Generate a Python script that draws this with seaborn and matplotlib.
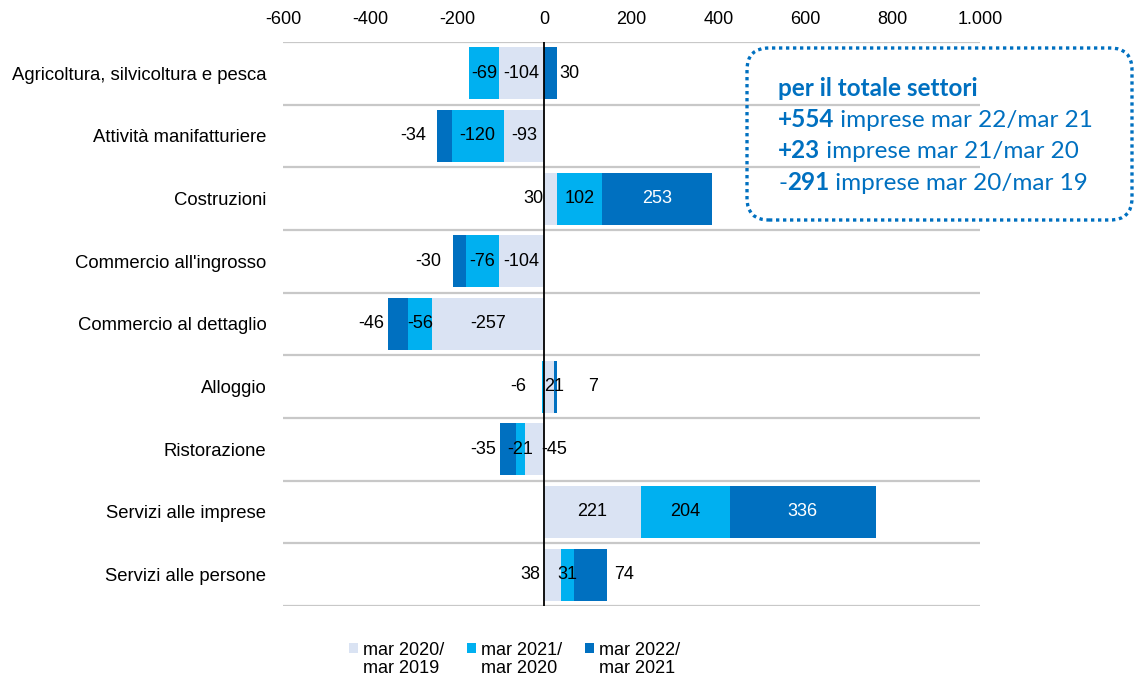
import numpy as np
import pandas as pd
import matplotlib
matplotlib.use('Agg')
import matplotlib.pyplot as plt
import seaborn as sns
from matplotlib.patches import FancyBboxPatch, Rectangle
from matplotlib.ticker import FuncFormatter
from matplotlib.transforms import IdentityTransform

# =============================================================================
# Dati
# =============================================================================
settori = ['Agricoltura, silvicoltura e pesca', 'Attività manifatturiere', 'Costruzioni',
           "Commercio all'ingrosso", 'Commercio al dettaglio', 'Alloggio', 'Ristorazione',
           'Servizi alle imprese', 'Servizi alle persone']
serie = ['mar 2020/\nmar 2019', 'mar 2021/\nmar 2020', 'mar 2022/\nmar 2021']
var_20_19 = [-104, -93, 30, -104, -257, 21, -45, 221, 38]
var_21_20 = [-69, -120, 102, -76, -56, -6, -21, 204, 31]
var_22_21 = [30, -34, 253, -30, -46, 7, -35, 336, 74]
tick_x = [-600, -400, -200, 0, 200, 400, 600, 800, 1000]

totale_righe = [('', '+554', ' imprese mar 22/mar 21'),
                ('', '+23', ' imprese mar 21/mar 20'),
                ('-', '291', ' imprese mar 20/mar 19')]

colori = ['#dae3f3', '#00b0f0', '#0070c0']
blu = '#0070c0'

# stacking divergente: negativi a sinistra, positivi a destra
valori = np.array([var_20_19, var_21_20, var_22_21], dtype=float)
pos = np.where(valori > 0, valori, 0).cumsum(axis=0)
neg = np.where(valori < 0, valori, 0).cumsum(axis=0)
fine = np.where(valori >= 0, pos, neg)
inizio = fine - valori

righe = []
for i, s in enumerate(serie):
    for j, c in enumerate(settori):
        righe.append({'settore': c, 'serie': s, 'fine': fine[i, j]})
df = pd.DataFrame(righe)

# =============================================================================
# Grafico
# =============================================================================
sns.set_theme(style='white')
plt.rcParams['font.family'] = ['Liberation Sans', 'DejaVu Sans']

fig = plt.figure(figsize=(11.34, 6.81), dpi=100)
ax = fig.add_axes([283 / 1134, 1 - 606 / 681, (980 - 283) / 1134, (606 - 42) / 681])

# separatori orizzontali
ax.hlines(np.arange(-0.5, len(settori)), -600, 1000, color='#c8c8c8', lw=1.6, zorder=0)

# barre: disegnate dalla piu' esterna alla piu' interna
sns.barplot(data=df, x='fine', y='settore', hue='serie', hue_order=serie[::-1],
            palette=dict(zip(serie, colori)), dodge=False, width=0.83, orient='h',
            errorbar=None, saturation=1, linewidth=0, legend=False, ax=ax, zorder=2)

ax.axvline(0, color='black', lw=1.3, zorder=3)

ax.set_xlim(-600, 1000)
ax.set_ylim(len(settori) - 0.5, -0.5)
ax.set_xticks(tick_x)
ax.xaxis.set_major_formatter(FuncFormatter(lambda v, p: f'{v:,.0f}'.replace(',', '.')))
ax.xaxis.tick_top()
ax.tick_params(axis='x', length=0, pad=10, labelsize=13, labelcolor='black')
ax.tick_params(axis='y', length=0, pad=12, labelsize=13.3, labelcolor='black')
ax.set_xlabel('')
ax.set_ylabel('')
for sp in ax.spines.values():
    sp.set_visible(False)

# etichette dei valori (spostamenti in pixel dove il segmento e' troppo stretto)
spost = {(0, 2): 18, (1, 2): -31, (2, 0): -18, (3, 2): -31, (4, 2): -27, (5, 0): 5,
         (5, 1): -25, (5, 2): 38, (6, 0): 20, (6, 2): -25, (8, 0): -22, (8, 2): 34}
for i in range(len(serie)):
    for j in range(len(settori)):
        v = valori[i, j]
        col = 'white' if (i == 2 and abs(v) >= 100) else 'black'
        ax.annotate(f'{v:.0f}', xy=((inizio[i, j] + fine[i, j]) / 2, j),
                    xytext=(spost.get((j, i), 0), 0), textcoords='offset pixels',
                    ha='center', va='center', fontsize=13, color=col, zorder=4)

# riquadro totale settori
idt = IdentityTransform()
box = FancyBboxPatch((747, 681 - 220), 385, 172, boxstyle='round,pad=0,rounding_size=22',
                     transform=idt, fill=False, ec=blu, lw=2.4, ls=(0, (1, 1.1)))
fig.add_artist(box)

fs_box = 17.5
fam_box = ['Lato', 'DejaVu Sans']
fig.text(778, 681 - 96, 'per il totale settori', transform=idt, fontsize=fs_box,
         fontweight='bold', color=blu, family=fam_box, va='baseline')
fig.canvas.draw()
renderer = fig.canvas.get_renderer()
for k, (pre, num, resto) in enumerate(totale_righe):
    y = 681 - (127 + k * 31.5)
    x = 778
    for testo, peso in [(pre, 'normal'), (num, 'bold'), (resto, 'normal')]:
        if not testo:
            continue
        t = fig.text(x, y, testo, transform=idt, fontsize=fs_box, fontweight=peso,
                     color=blu, family=fam_box, va='baseline')
        x = t.get_window_extent(renderer=renderer).x1

# legenda
leg_x = [349, 467, 585]
for k, s in enumerate(serie):
    fig.add_artist(Rectangle((leg_x[k], 681 - 653), 9, 10, transform=idt,
                             color=colori[k], lw=0))
    fig.text(leg_x[k] + 14, 681 - 659.5, s, transform=idt, fontsize=13,
             color='black', va='center', ha='left', linespacing=1.15)

fig.savefig('out.png', dpi=100)
